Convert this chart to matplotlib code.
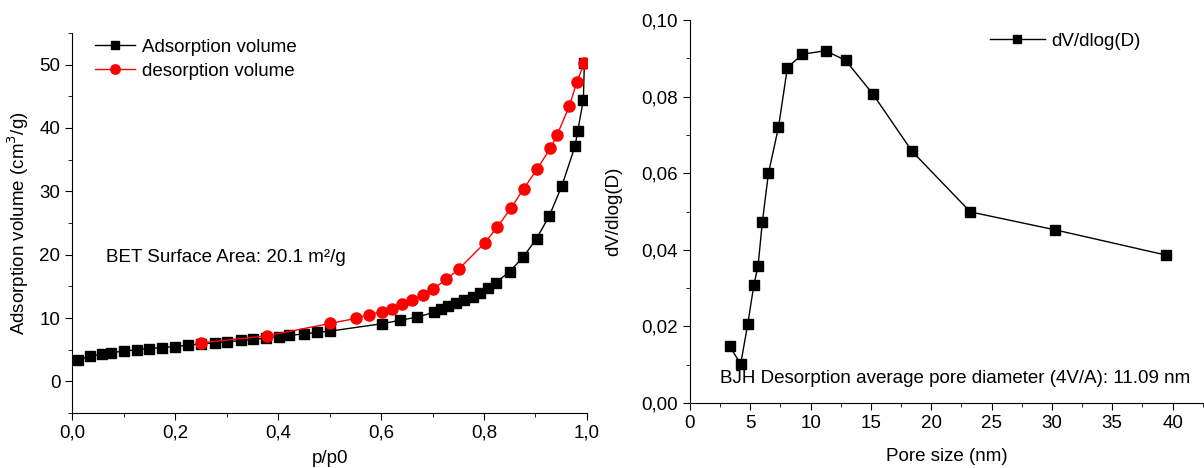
import matplotlib.pyplot as plt
from matplotlib.ticker import MultipleLocator, FuncFormatter

plt.rcParams['font.family'] = ['Liberation Sans', 'DejaVu Sans']
plt.rcParams['font.size'] = 13.5

# isotherm data (p/p0, volume cm3/g)
ads_p = [0.011, 0.035, 0.058, 0.075, 0.101, 0.126, 0.150, 0.175, 0.200, 0.225,
         0.251, 0.277, 0.301, 0.327, 0.352, 0.376, 0.402, 0.421, 0.451, 0.476,
         0.501, 0.601, 0.636, 0.670, 0.703, 0.717, 0.731, 0.746, 0.762, 0.778,
         0.793, 0.808, 0.823, 0.850, 0.876, 0.902, 0.927, 0.951, 0.977, 0.982,
         0.993, 0.995]
ads_v = [3.38, 3.96, 4.28, 4.55, 4.76, 5.02, 5.18, 5.34, 5.50, 5.71,
         5.92, 6.08, 6.24, 6.45, 6.61, 6.82, 7.03, 7.24, 7.51, 7.72,
         7.93, 9.09, 9.62, 10.15, 10.89, 11.36, 11.89, 12.31, 12.84, 13.37,
         13.95, 14.75, 15.59, 17.34, 19.61, 22.52, 26.16, 30.81, 37.16, 39.48,
         44.45, 50.3]
des_p = [0.995, 0.980, 0.966, 0.942, 0.929, 0.903, 0.877, 0.852, 0.826, 0.802,
         0.752, 0.727, 0.701, 0.682, 0.660, 0.641, 0.622, 0.601, 0.576, 0.551,
         0.501, 0.378, 0.250]
des_v = [50.3, 47.2, 43.5, 38.9, 36.8, 33.5, 30.4, 27.3, 24.4, 21.9,
         17.8, 16.1, 14.6, 13.7, 12.8, 12.2, 11.5, 11.0, 10.5, 9.94,
         9.14, 7.19, 6.08]

# BJH pore size distribution
pore_d = [3.29, 4.21, 4.79, 5.30, 5.65, 6.00, 6.51, 7.34, 8.08, 9.32,
          11.24, 12.90, 15.16, 18.42, 23.24, 30.29, 39.48]
dv_dlogd = [0.0148, 0.0102, 0.0205, 0.0308, 0.0358, 0.0472, 0.0600, 0.0720, 0.0876, 0.0911,
            0.0920, 0.0895, 0.0807, 0.0657, 0.0499, 0.0452, 0.0386]


def comma(fmt):
    return FuncFormatter(lambda v, pos: (fmt % v).replace('.', ','))


fig = plt.figure(figsize=(12.04, 4.68), dpi=100)
ax1 = fig.add_axes([0.060, 0.1175, 0.4275, 0.812])
ax2 = fig.add_axes([0.573, 0.139, 0.427, 0.818])

# left: isotherm
ax1.plot(ads_p, ads_v, color='black', lw=1, marker='s', ms=7, label='Adsorption volume')
ax1.plot(des_p, des_v, color='red', lw=1, marker='o', ms=8, label='desorption volume')
ax1.set_xlim(0, 1.0)
ax1.set_ylim(-5, 55)
ax1.xaxis.set_major_locator(MultipleLocator(0.2))
ax1.xaxis.set_minor_locator(MultipleLocator(0.1))
ax1.yaxis.set_major_locator(MultipleLocator(10))
ax1.yaxis.set_minor_locator(MultipleLocator(5))
ax1.xaxis.set_major_formatter(comma('%.1f'))
ax1.set_xlabel('p/p0', labelpad=6)
ax1.set_ylabel('Adsorption volume (cm$^3$/g)', labelpad=6)
ax1.text(0.065, 19.6, 'BET Surface Area: 20.1 m²/g', va='center')
ax1.legend(loc='upper left', frameon=False, handlelength=2.1, handletextpad=0.4,
           borderaxespad=0, borderpad=0, labelspacing=0.35, markerscale=0.85,
           bbox_to_anchor=(0.045, 0.985))

# right: pore size distribution
ax2.plot(pore_d, dv_dlogd, color='black', lw=1, marker='s', ms=7, label='dV/dlog(D)')
ax2.set_xlim(0, 42.6)
ax2.set_ylim(0, 0.10)
ax2.xaxis.set_major_locator(MultipleLocator(5))
ax2.xaxis.set_minor_locator(MultipleLocator(2.5))
ax2.yaxis.set_major_locator(MultipleLocator(0.02))
ax2.yaxis.set_minor_locator(MultipleLocator(0.01))
ax2.yaxis.set_major_formatter(comma('%.2f'))
ax2.set_xlabel('Pore size (nm)', labelpad=12)
ax2.set_ylabel('dV/dlog(D)', labelpad=14)
ax2.text(2.5, 0.0063, 'BJH Desorption average pore diameter (4V/A): 11.09 nm', va='center')
ax2.legend(loc='upper left', frameon=False, handlelength=2.9, handletextpad=0.35,
           borderaxespad=0, borderpad=0, markerscale=0.85,
           bbox_to_anchor=(0.584, 0.967))

for ax in (ax1, ax2):
    ax.spines['top'].set_visible(False)
    ax.spines['right'].set_visible(False)
    ax.tick_params(which='major', direction='out', length=5, labelsize=13.5)
    ax.tick_params(which='minor', direction='out', length=3)

fig.savefig('out.png', dpi=100)
